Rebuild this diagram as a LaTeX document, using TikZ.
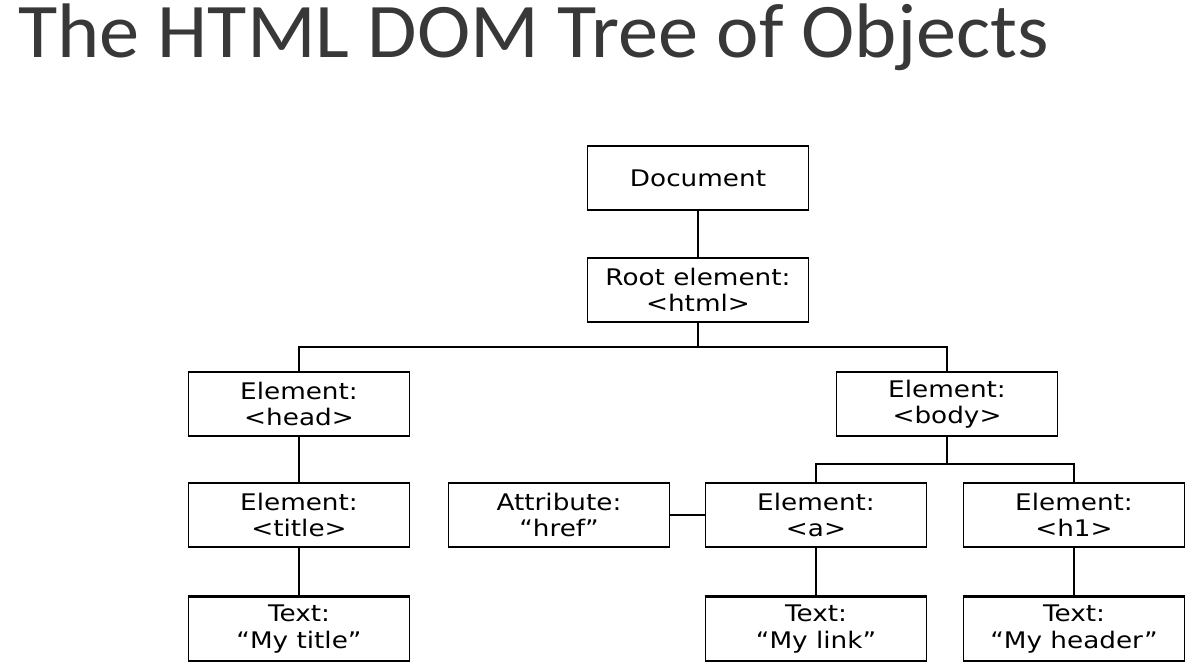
\documentclass[tikz,border=0pt]{standalone}
\usepackage{fontspec}
\setmainfont{DejaVu Sans}
\newfontfamily\titlefont[FakeStretch=1.04]{Carlito}
\newfontfamily\boxfont[FakeStretch=1.15]{DejaVu Sans}
\usetikzlibrary{calc}

\begin{document}
\begin{tikzpicture}[x=0.02cm,y=-0.02cm,font=\boxfont\fontsize{13}{15}\selectfont,
  box/.style={draw,line width=1pt,minimum width=4.42cm,minimum height=1.28cm,align=center,inner sep=0pt},
  textbox/.style={box}]

\useasboundingbox (0,0) rectangle (1200,668);

\begin{scope}
\node[anchor=base west,font=\titlefont\fontsize{44}{44}\selectfont,text=black!78] (heading) at (12,58) {The HTML DOM Tree of Objects};

\node[box] (doc) at (698,178) {Document};
\node[box] (root) at (698,290) {Root element:\\<html>};
\node[box] (head) at (299,404) {Element:\\<head>};
\node[box] (body) at (947,404) {Element:\\<body>};
\node[box] (title) at (299,515) {Element:\\<title>};
\node[box] (href) at (559,515) {Attribute:\\“href”};
\node[box] (a) at (816,515) {Element:\\<a>};
\node[box] (h1) at (1074,515) {Element:\\<h1>};
\node[textbox] (txttitle) at (299,629) {Text:\\“My title”};
\node[textbox] (txtlink) at (816,629) {Text:\\“My link”};
\node[textbox] (txtheader) at (1074,629) {Text:\\“My header”};

\foreach \n in {txttitle,txtlink,txtheader}
  \draw[line width=1.5pt] (\n.north west) -- (\n.north east);

\draw[line width=1pt] (doc) -- (root);
\draw[line width=1pt] (root.south) -- ++(0,24) coordinate (f1) -| (head.north);
\draw[line width=1pt] (f1) -| (body.north);
\draw[line width=1pt] (head) -- (title);
\draw[line width=1pt] (title) -- (txttitle);
\draw[line width=1pt] (body.south) -- ++(0,27) coordinate (f2) -| (a.north);
\draw[line width=1pt] (f2) -| (h1.north);
\draw[line width=1pt] (href) -- (a);
\draw[line width=1pt] (a) -- (txtlink);
\draw[line width=1pt] (h1) -- (txtheader);
\end{scope}

\end{tikzpicture}
\end{document}
